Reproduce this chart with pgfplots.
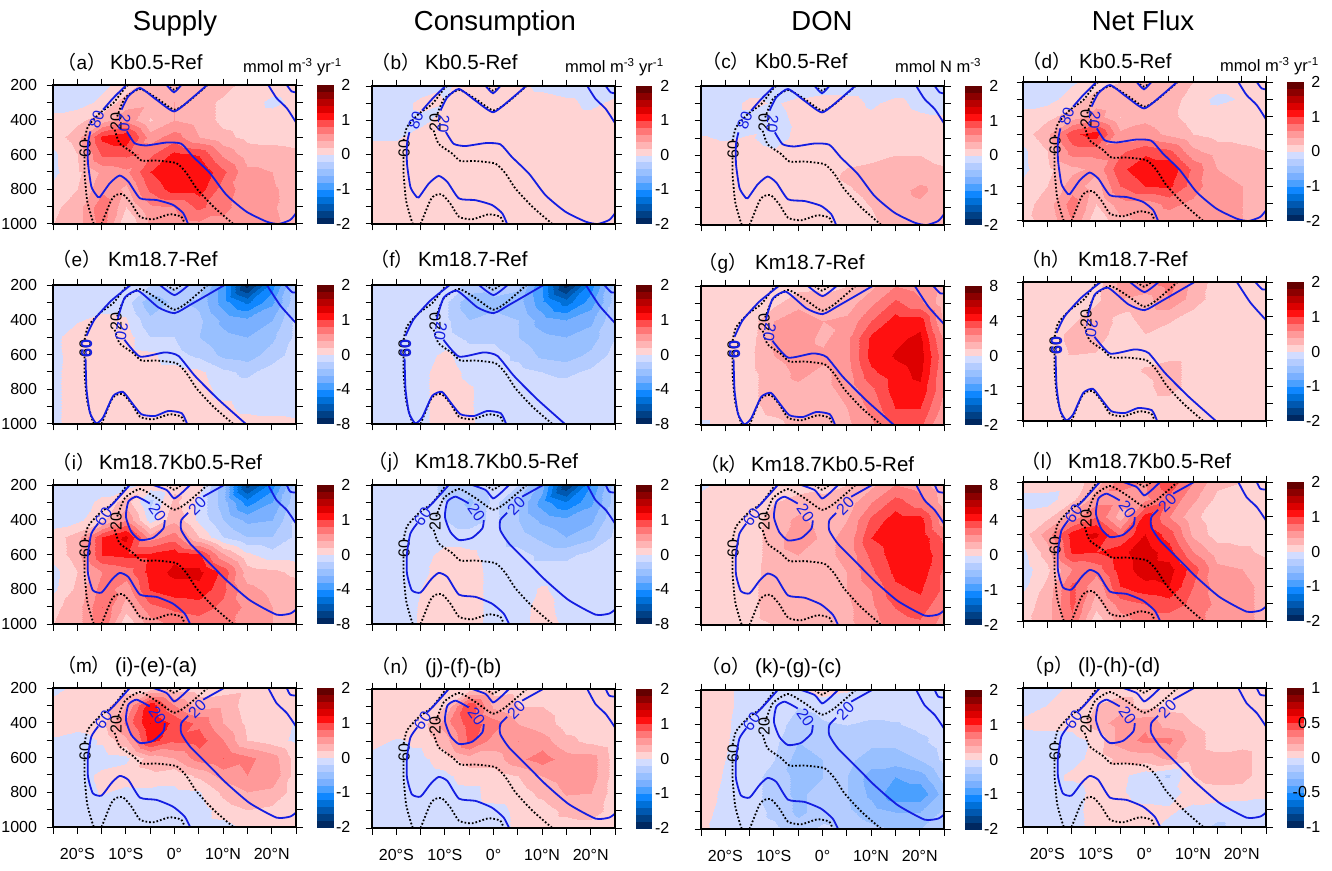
\documentclass[border=0pt]{standalone}
\usepackage{fontspec}
\setmainfont{Liberation Sans}
\newfontfamily\cjk{Noto Sans CJK SC}
\usepackage{pgfplots}
\usepackage{pgfplotstable}
\pgfplotsset{compat=1.18}
\definecolor{cblue}{RGB}{20,30,225}
\pgfplotsset{
 colormap={bwr}{rgb255=(0,40,96) rgb255=(0,64,133) rgb255=(0,88,176) rgb255=(0,112,216) rgb255=(15,135,255) rgb255=(74,160,255) rgb255=(122,176,255) rgb255=(152,192,255) rgb255=(180,204,255) rgb255=(210,220,255)
 rgb255=(255,211,211) rgb255=(255,180,180) rgb255=(255,153,153) rgb255=(255,119,119) rgb255=(255,77,77) rgb255=(255,16,16) rgb255=(221,0,0) rgb255=(184,0,0) rgb255=(140,0,0) rgb255=(100,0,0)},
 blu/.style={color=cblue,line width=1.8pt,smooth,tension=0.35},
 dott/.style={black,line width=1.8pt,dash pattern=on 1.7pt off 2pt,smooth,tension=0.35},
 ylab/.style={yticklabels={200,,400,,600,,800,,1000}},
 noylab/.style={yticklabels={}},
 xlab/.style={xticklabels={,20°S,,10°S,,0°,,10°N,,20°N,}},
 noxlab/.style={xticklabels={}},
}
\newcommand\lf{\fontsize{16}{16}\selectfont}
\newcommand\contD{%
 \addplot[dott] coordinates {(-9.5,200)(-10.2,217)(-12.6,304)(-15.4,362)(-17.8,438)(-18.5,515)};
 \addplot[dott] coordinates {(-18.5,612)(-18.5,708)(-18,862)(-17.1,958)(-16.6,1000)};
 \addplot[dott] coordinates {(-15,1000)(-13,862)(-12,833)(-10.6,829)(-8.9,881)(-7.1,958)(-4.4,973)(-1,944)(1.4,958)(2.1,1000)};
 \addplot[dott] coordinates {(-12.3,458)(-11.3,535)(-8.5,592)(-6.8,635)(-3.7,635)(.4,650)(2.5,708)(4.5,794)(8,900)(12.1,1000)};
 \addplot[dott] coordinates {(-11.8,381)(-10.2,275)(-7.1,223)(-3.7,275)(-.1,342)(2.5,304)(6.8,200)};
 \addplot[dott] coordinates {(-1.6,200)(-.1,227)(1.4,200)};
 \node[rotate=90] at (axis cs:-18.4,565) {\lf 60};
 \node[rotate=90] at (axis cs:-12,410) {\lf 20};
}
\newcommand\contA{%
 \addplot[blu] coordinates {(-9.9,200)(-12.6,275)(-14.7,342)};
 \addplot[blu] coordinates {(-17.3,467)(-17.8,535)(-17.8,650)(-17.1,785)(-16.1,833)(-15.4,846)(-13.3,765)(-11.3,721)(-9.5,756)(-7.1,852)(-3.7,862)(-.3,890)(1.8,938)(2.8,1000)};
 \addplot[blu] coordinates {(-9.8,467)(-8.2,535)(-5.8,548)(-1.6,531)(1.4,538)(3.8,612)(7.3,708)(10.7,833)(14.8,929)(19,987)(21.4,1000)(23.8,977)(25,938)};
 \addplot[blu] coordinates {(-10.9,342)(-9.5,265)(-7.1,217)(-3.7,285)(-.1,352)(3.2,285)(6.7,200)};
 \addplot[blu] coordinates {(-1.6,200)(-.1,242)(1.4,200)};
 \addplot[blu] coordinates {(19.3,200)(21,275)(23.1,333)(25,415)};
 \addplot[blu] coordinates {(23.1,200)(24.1,237)(25,242)};
 \node[rotate=70,text=cblue] at (axis cs:-16,400) {\lf 80};
 \node[rotate=-95,text=cblue] at (axis cs:-10.3,420) {\lf 20};
}
\newcommand\contB{%
 \addplot[blu] coordinates {(-9,200)(-13,290)(-16.4,396)(-18.1,492)};
 \addplot[blu] coordinates {(-18.3,623)(-18.1,800)(-17.4,935)(-16.1,996)(-14.7,963)(-12.6,838)(-10.6,815)(-8.8,877)(-6.8,944)(-4,954)(-1.3,925)(1.5,938)(2.6,1000)};
 \addplot[blu] coordinates {(-10.3,515)(-7.1,612)(-2,588)(.8,608)(4.2,723)(9,858)(14.7,1000)};
 \addplot[blu] coordinates {(-11.6,396)(-11.5,377)(-10.2,271)(-7.5,233)(-3.3,329)(0,362)(3.5,310)(10.3,200)};
 \addplot[blu] coordinates {(-3,200)(0,258)(2.9,200)};
 \addplot[blu] coordinates {(19,200)(21.8,319)(25,419)};
 \addplot[blu] coordinates {(22.8,200)(24.2,242)(25,242)};
 \node[rotate=90,text=cblue] at (axis cs:-18.1,565) {\lf\bfseries 60};
 \node[rotate=-100,text=cblue] at (axis cs:-10.9,465) {\lf 20};
}
\newcommand\contC{%
 \addplot[blu] coordinates {(-9.2,200)(-12.6,306)(-13.7,335)};
 \addplot[blu] coordinates {(-15.7,421)(-17.1,479)(-17.8,594)(-17.8,710)(-16.8,806)(-15,819)(-13,748)(-11.3,706)(-9.5,729)(-7.1,831)(-3.7,844)(-.3,883)(2.1,940)(3.2,1000)};
 \addplot[blu] coordinates {(-5.1,306)(-7.8,267)(-9.5,296)(-10,383)(-8.9,469)(-7.1,517)(-4.4,504)(-2.3,450)(-2,402)};
 \addplot[blu] coordinates {(2.8,360)(1.4,402)(1.4,460)(3.2,537)(7.3,652)(10.7,748)(15.5,863)(21,946)(23.8,940)(25,917)};
 \addplot[blu] coordinates {(5.9,267)(10.2,200)};
 \addplot[blu] coordinates {(-4.4,200)(-1.6,229)(-.1,277)(1.4,248)(3.2,200)};
 \addplot[blu] coordinates {(19.3,200)(21,287)(23.1,344)(25,421)};
 \addplot[blu] coordinates {(23.1,200)(23.8,238)(25,244)};
 \node[rotate=55,text=cblue] at (axis cs:-14.6,382) {\lf 60};
 \node[rotate=-55,text=cblue] at (axis cs:-3.5,360) {\lf 20};
 \node[rotate=45,text=cblue] at (axis cs:4.7,320) {\lf 20};
}
\pgfplotstableread[row sep=crcr]{v\\
-.1\\-.1\\-.05\\.1\\.3\\.3\\.35\\.3\\.1\\.1\\.1\\
-.1\\-.1\\.05\\.3\\.35\\.4\\.3\\.15\\.1\\-.05\\.05\\
.08\\.15\\.3\\.55\\.18\\.4\\.3\\.15\\.12\\.1\\.1\\
.1\\.3\\1.05\\1.15\\.5\\.7\\.4\\.25\\.15\\.12\\.1\\
-.05\\.2\\.85\\.85\\.75\\1.05\\.98\\.55\\.3\\.3\\.25\\
-.05\\.15\\.45\\.55\\1\\1.2\\1.2\\.85\\.45\\.4\\.3\\
.05\\.2\\.55\\.35\\.85\\1.1\\1.1\\.7\\.5\\.42\\.35\\
.15\\.3\\.75\\.2\\.55\\.6\\.85\\.65\\.5\\.42\\.3\\
.2\\.3\\.7\\0\\.42\\.5\\.55\\.55\\.5\\.45\\.3\\
}\dA
\pgfplotstableread[row sep=crcr]{v\\
-.1\\-.1\\-.1\\-.02\\.05\\.1\\.05\\-.05\\-.1\\-.1\\-.1\\
-.1\\-.1\\.05\\0\\.1\\.1\\.1\\.1\\.05\\-.05\\.05\\
-.1\\-.1\\-.05\\.08\\.1\\.1\\.1\\.1\\.1\\.1\\.1\\
-.02\\-.02\\.1\\.1\\.1\\.1\\.1\\.1\\.1\\.1\\.1\\
.1\\.1\\.1\\.1\\.1\\.1\\.1\\.1\\.1\\.1\\.1\\
.1\\.1\\.1\\.1\\.1\\.1\\.1\\.1\\.1\\.1\\.1\\
.1\\.1\\.1\\.1\\.1\\.1\\.1\\.1\\.1\\.1\\.1\\
.1\\.1\\.1\\.1\\.1\\.1\\.1\\.1\\.1\\.1\\.1\\
.1\\.1\\.1\\.1\\.1\\.1\\.1\\.1\\.1\\.1\\.1\\
}\dB
\pgfplotstableread[row sep=crcr]{v\\
-.1\\-.1\\-.1\\-.1\\-.1\\-.1\\-.1\\-.1\\-.1\\-.1\\-.1\\
-.1\\-.1\\.05\\-.02\\.05\\.1\\.08\\-.03\\.05\\-.05\\-.08\\
-.1\\-.1\\-.08\\-.05\\.03\\.1\\.1\\.05\\.1\\.05\\.05\\
.02\\-.02\\.02\\-.08\\.05\\.1\\.1\\.1\\.1\\.1\\.1\\
.1\\.1\\.1\\.05\\.1\\.1\\.1\\.14\\.2\\.2\\.12\\
.1\\.1\\.1\\.1\\.1\\.1\\.24\\.28\\.3\\.3\\.25\\
.1\\.1\\.1\\.1\\.1\\.12\\.18\\.25\\.33\\.45\\.3\\
.1\\.1\\.1\\.1\\.1\\.1\\.12\\.2\\.3\\.35\\.3\\
.1\\.1\\.1\\.1\\.1\\.1\\.1\\.16\\.3\\.33\\.3\\
}\dC
\pgfplotstableread[row sep=crcr]{v\\
-.1\\-.1\\-.03\\.1\\.2\\.25\\.4\\.2\\.1\\.1\\.1\\
-.1\\-.08\\.1\\.3\\.25\\.35\\.3\\.1\\-.05\\.02\\.1\\
.08\\.15\\.3\\.5\\.2\\.35\\.25\\.12\\.1\\.1\\.1\\
.1\\.35\\.95\\1.1\\.45\\.5\\.35\\.2\\.13\\.12\\.1\\
-.05\\.2\\.7\\.7\\.75\\.95\\.85\\.45\\.3\\.25\\.2\\
-.05\\.15\\.35\\.45\\.95\\1.15\\1.15\\.75\\.4\\.35\\.25\\
.05\\.2\\.5\\.3\\.8\\1\\1.05\\.7\\.45\\.4\\.3\\
.12\\.3\\.7\\.2\\.5\\.5\\.65\\.55\\.45\\.4\\.25\\
.15\\.25\\.6\\.03\\.35\\.45\\.5\\.5\\.45\\.4\\.25\\
}\dD
\pgfplotstableread[row sep=crcr]{v\\
-.1\\-.1\\-.1\\-.1\\-.2\\-.15\\-.25\\-.9\\-1.9\\-1.1\\-.25\\
-.1\\-.1\\-.1\\-.1\\-.55\\-.35\\-.45\\-.9\\-1.25\\-.85\\-.25\\
-.1\\-.02\\.06\\.02\\-.35\\-.25\\-.35\\-.65\\-.75\\-.6\\-.15\\
-.05\\.1\\.1\\.1\\-.2\\-.2\\-.4\\-.55\\-.6\\-.45\\-.15\\
-.05\\.08\\.1\\.1\\.05\\-.12\\-.25\\-.45\\-.5\\-.3\\-.1\\
-.05\\.1\\.1\\.1\\.1\\.1\\.05\\-.15\\-.25\\-.1\\-.1\\
-.05\\.1\\.1\\.1\\.1\\.1\\.1\\-.08\\-.1\\-.1\\-.1\\
-.05\\.1\\.1\\.1\\.1\\.1\\.1\\.05\\-.06\\-.1\\-.1\\
-.05\\.1\\.1\\.1\\.1\\.1\\.1\\.1\\.1\\.1\\.05\\
}\dE
\pgfplotstableread[row sep=crcr]{v\\
-.1\\-.1\\-.1\\-.1\\-.25\\-.3\\-.35\\-1\\-1.9\\-1.1\\-.3\\
-.1\\-.1\\-.1\\-.15\\-.55\\-.45\\-.5\\-.95\\-1.3\\-.9\\-.3\\
-.1\\-.1\\-.1\\-.15\\-.4\\-.35\\-.4\\-.7\\-.8\\-.65\\-.2\\
-.1\\-.1\\-.1\\-.12\\-.25\\-.25\\-.4\\-.55\\-.6\\-.5\\-.2\\
-.1\\-.1\\-.1\\.05\\-.12\\-.12\\-.25\\-.45\\-.5\\-.35\\-.12\\
-.1\\-.1\\-.05\\.1\\-.05\\-.1\\-.12\\-.2\\-.25\\-.15\\-.1\\
-.1\\-.1\\-.05\\.1\\.02\\-.1\\-.1\\-.1\\-.1\\-.1\\-.1\\
-.1\\-.1\\-.05\\.1\\.02\\-.1\\-.1\\-.1\\-.1\\-.1\\-.1\\
-.1\\-.1\\-.05\\.1\\.03\\-.1\\-.1\\-.1\\-.1\\-.1\\-.1\\
}\dF
\pgfplotstableread[row sep=crcr]{v\\
.08\\.1\\.1\\.1\\.12\\.15\\.2\\.35\\.6\\.5\\.3\\
.03\\.1\\.1\\.15\\.35\\.25\\.3\\.55\\.85\\.65\\.25\\
.03\\.1\\.1\\.4\\.5\\.4\\.45\\.8\\1.1\\1.12\\.35\\
.05\\.1\\.12\\.45\\.5\\.35\\.55\\1.05\\1.15\\1.25\\.55\\
.1\\.1\\.15\\.4\\.5\\.45\\.55\\1.08\\1.22\\1.3\\.65\\
.1\\.1\\.15\\.3\\.45\\.35\\.5\\.95\\1.12\\1.25\\.6\\
.1\\.1\\.15\\.3\\.35\\.35\\.45\\.75\\1.1\\1.15\\.6\\
.1\\.1\\.15\\.25\\.3\\.3\\.4\\.65\\1\\1\\.5\\
-.05\\.08\\.12\\.15\\.25\\.3\\.35\\.55\\.85\\.85\\.35\\
}\dG
\pgfplotstableread[row sep=crcr]{v\\
.1\\.1\\.1\\.1\\.45\\.6\\.7\\.35\\.1\\.1\\.1\\
.1\\.1\\.1\\.15\\.4\\.3\\.6\\.3\\.1\\.1\\.1\\
.1\\.1\\.15\\.3\\.15\\.25\\.25\\.12\\.1\\.1\\.1\\
.1\\.1\\.25\\.3\\.1\\.2\\.1\\.1\\.1\\.1\\.1\\
.1\\.1\\.22\\.2\\.1\\.1\\.1\\.1\\.1\\.1\\.1\\
.1\\.1\\.1\\.1\\.1\\.22\\.3\\.1\\.1\\.1\\.1\\
.1\\.1\\.1\\.1\\.1\\.15\\.3\\.1\\.1\\.1\\.1\\
.1\\.1\\.1\\.1\\.1\\.1\\.1\\.1\\.1\\.1\\.1\\
.1\\.1\\.1\\.1\\.1\\.1\\.1\\.1\\.1\\.1\\.1\\
}\dH
\pgfplotstableread[row sep=crcr]{v\\
-.1\\-.1\\-.1\\-.1\\.1\\.15\\.1\\-.5\\-1.7\\-1.1\\-.3\\
-.1\\-.1\\.05\\.3\\-.25\\.25\\-.05\\-.5\\-1.1\\-.8\\-.25\\
-.1\\-.05\\.15\\.6\\-.1\\.35\\-.05\\-.4\\-.65\\-.6\\-.15\\
.1\\.3\\1\\1.25\\.5\\.7\\.2\\-.2\\-.4\\-.4\\-.15\\
.08\\.3\\1\\1.05\\1.05\\1.15\\1.05\\.45\\.05\\-.1\\-.1\\
-.08\\.2\\.6\\.7\\1.08\\1.25\\1.25\\.95\\.3\\.25\\.15\\
-.05\\.25\\.7\\.5\\1.02\\1.12\\1.15\\.85\\.45\\.35\\.3\\
.15\\.3\\.8\\.3\\.75\\.85\\.9\\.75\\.55\\.4\\.3\\
.2\\.3\\.75\\.02\\.5\\.65\\.7\\.65\\.55\\.4\\.3\\
}\dI
\pgfplotstableread[row sep=crcr]{v\\
-.1\\-.1\\-.1\\-.25\\-.25\\-.1\\-.2\\-.7\\-1.8\\-1\\-.3\\
-.1\\-.1\\-.1\\-.2\\-.45\\-.15\\-.4\\-.9\\-1.2\\-.85\\-.3\\
-.1\\-.1\\-.1\\-.2\\-.3\\-.15\\-.4\\-.65\\-.75\\-.65\\-.2\\
-.1\\-.1\\-.1\\-.1\\-.1\\-.12\\-.3\\-.45\\-.6\\-.45\\-.15\\
-.1\\-.1\\-.1\\.1\\.05\\-.1\\-.12\\-.25\\-.25\\-.12\\-.1\\
-.1\\-.1\\-.05\\.1\\.1\\-.08\\-.1\\-.1\\-.1\\-.1\\-.1\\
-.1\\-.1\\0\\.1\\.1\\-.08\\-.1\\.03\\-.1\\-.1\\-.1\\
-.1\\-.1\\.02\\.1\\.1\\-.08\\-.1\\.1\\-.1\\-.1\\-.1\\
-.1\\-.1\\.02\\.1\\.1\\-.08\\-.1\\.12\\-.05\\-.1\\-.1\\
}\dJ
\pgfplotstableread[row sep=crcr]{v\\
-.05\\.08\\.08\\.08\\.1\\.15\\.2\\.35\\.6\\.5\\.25\\
.1\\.1\\.1\\.2\\.3\\.25\\.3\\.6\\.9\\.7\\.3\\
.1\\.1\\.1\\.3\\.45\\.3\\.4\\.85\\1.12\\1.1\\.45\\
.1\\.1\\.1\\.3\\.55\\.35\\.45\\1\\1.15\\1.15\\.75\\
.1\\.1\\.1\\.3\\.4\\.35\\.45\\.85\\1.12\\1.16\\.85\\
.1\\.1\\.12\\.3\\.35\\.3\\.4\\.75\\1.05\\1.12\\.75\\
.1\\.1\\.15\\.3\\.3\\.3\\.4\\.6\\.95\\1.03\\.75\\
.1\\.1\\.15\\.28\\.3\\.3\\.35\\.55\\.8\\.9\\.6\\
.1\\.1\\.15\\.2\\.25\\.3\\.35\\.5\\.7\\.75\\.5\\
}\dK
\pgfplotstableread[row sep=crcr]{v\\
.15\\.15\\.1\\.3\\.7\\.6\\.95\\.6\\.25\\.2\\.2\\
-.1\\-.1\\.15\\.5\\.5\\.55\\.75\\.45\\.15\\.1\\.1\\
.1\\.15\\.5\\.8\\.3\\1.1\\.6\\.25\\.08\\.1\\.1\\
.1\\.5\\1.1\\1.25\\.75\\1.2\\.9\\.35\\.1\\.1\\.1\\
-.05\\.3\\1.05\\1\\1.15\\1.3\\1.1\\.6\\.3\\.25\\.15\\
-.1\\.15\\.6\\.7\\1.1\\1.3\\1.28\\.9\\.45\\.4\\.3\\
-.05\\.25\\.85\\.45\\1\\1.15\\1.2\\.8\\.5\\.45\\.35\\
.1\\.3\\.85\\.3\\.7\\.8\\.9\\.75\\.55\\.45\\.35\\
.15\\.3\\.75\\.05\\.5\\.7\\.7\\.65\\.55\\.45\\.35\\
}\dL
\pgfplotstableread[row sep=crcr]{v\\
-.1\\.08\\.1\\.1\\.1\\.1\\.1\\.1\\.15\\.1\\.1\\
.1\\.1\\.1\\.4\\1.15\\.6\\.3\\.35\\.1\\.1\\.05\\
.1\\.1\\.15\\.65\\1.2\\.95\\.75\\.4\\.15\\.1\\-.02\\
-.03\\-.1\\.03\\.35\\1.1\\.85\\.9\\.6\\.2\\.1\\-.05\\
-.1\\-.1\\-.1\\-.05\\.3\\.4\\.7\\.8\\.65\\.5\\.1\\
0\\-.1\\.05\\.1\\.15\\.08\\.25\\.5\\.6\\.55\\.1\\
-.1\\-.1\\.02\\-.05\\-.05\\-.05\\-.02\\.25\\.4\\.35\\.1\\
-.1\\-.1\\-.1\\-.1\\-.1\\-.1\\-.1\\.1\\.2\\.15\\.1\\
-.1\\-.1\\-.1\\-.1\\-.1\\-.1\\-.1\\-.08\\.05\\.1\\.1\\
}\dM
\pgfplotstableread[row sep=crcr]{v\\
.1\\.1\\.1\\.1\\.1\\.1\\.15\\.15\\.1\\.1\\.05\\
.1\\.05\\.1\\.2\\1\\.35\\.2\\.2\\.1\\.1\\.1\\
.1\\.1\\.1\\.5\\.9\\.7\\.4\\.3\\.12\\.1\\.1\\
.05\\-.02\\.03\\.3\\.85\\.5\\.6\\.5\\.25\\.15\\.05\\
-.05\\-.05\\-.05\\.1\\.3\\.3\\.55\\.7\\.5\\.5\\.1\\
-.05\\-.1\\-.1\\-.05\\.1\\.1\\.2\\.4\\.5\\.5\\.1\\
-.1\\-.1\\-.1\\-.1\\-.08\\.1\\.1\\.25\\.42\\.4\\.1\\
-.1\\-.1\\-.1\\-.1\\-.1\\-.08\\.05\\.1\\.25\\.3\\.1\\
-.1\\-.1\\-.1\\-.1\\-.1\\-.1\\.05\\.1\\.1\\.1\\.1\\
}\dN
\pgfplotstableread[row sep=crcr]{v\\
.1\\.05\\-.1\\-.1\\-.05\\.1\\.02\\-.1\\-.1\\-.1\\-.1\\
.1\\.05\\-.1\\-.1\\-.2\\-.15\\-.12\\-.1\\-.1\\-.1\\-.1\\
.1\\.03\\-.1\\-.1\\-.3\\-.22\\-.2\\-.25\\-.22\\-.15\\-.1\\
.1\\.02\\-.1\\-.15\\-.4\\-.3\\-.35\\-.35\\-.35\\-.25\\-.1\\
.1\\0\\-.1\\-.2\\-.5\\-.4\\-.35\\-.5\\-.5\\-.4\\-.15\\
.1\\-.02\\-.1\\-.3\\-.45\\-.4\\-.4\\-.7\\-.8\\-.7\\-.3\\
.1\\-.05\\-.1\\-.3\\-.45\\-.3\\-.4\\-.65\\-.95\\-.95\\-.5\\
.1\\-.1\\-.1\\-.25\\-.45\\-.3\\-.35\\-.5\\-.6\\-.6\\-.35\\
.05\\-.1\\-.1\\-.15\\-.3\\-.15\\-.25\\-.35\\-.4\\-.4\\-.3\\
}\dO
\pgfplotstableread[row sep=crcr]{v\\
-.1\\-.1\\.05\\.1\\.1\\.1\\.1\\.1\\.1\\.1\\.1\\
-.1\\0\\.1\\.2\\.3\\.12\\.15\\.12\\.1\\.1\\.1\\
.05\\.08\\.08\\.3\\.5\\.55\\.3\\.2\\.1\\.1\\.1\\
-.1\\-.1\\-.08\\.05\\.5\\.65\\.65\\.3\\.1\\.1\\.05\\
-.1\\-.1\\-.1\\.1\\.25\\.3\\.45\\.3\\.25\\.3\\.05\\
-.1\\-.1\\.05\\.12\\.05\\-.1\\-.22\\.2\\.3\\.3\\.05\\
-.1\\-.1\\-.1\\.08\\.03\\-.1\\-.1\\.1\\.12\\.1\\.05\\
-.1\\-.1\\-.08\\.1\\.1\\.05\\.03\\-.05\\-.1\\-.1\\-.1\\
-.1\\-.1\\-.1\\.1\\.1\\.05\\-.05\\-.1\\-.25\\-.1\\-.1\\
}\dP
% #1 left #2 top #3 bottom #4 colorbar labels #5 contours #6 table #7 y style #8 x style
\newcommand\panel[8]{%
 \pgfmathsetmacro\hh{#3-#2}%
 \begin{axis}[at={(#1pt,870pt-#3pt)},anchor=south west,scale only axis,width=243pt,height=\hh pt,
  xmin=-25,xmax=25,ymin=200,ymax=1000,y dir=reverse,
  xtick={-25,-20,-15,-10,-5,0,5,10,15,20,25},ytick={200,300,400,500,600,700,800,900,1000},
  #7,#8,tick align=outside,major tick length=6.5pt,
  tick style={black,line width=1pt},axis line style={line width=1.2pt},
  xtick pos=both,ytick pos=both,xticklabel pos=bottom,yticklabel pos=left,
  ticklabel style={font=\fontsize{16}{16}\selectfont},
  xticklabel style={yshift=-11pt},yticklabel style={xshift=-6pt},
  axis on top,
  colormap name=bwr,colormap access=piecewise constant,point meta min=-2,point meta max=2,
  colorbar,colorbar style={at={(parent axis.south east)},anchor=south west,xshift=12pt,
   scale only axis,width=16.5pt,height=\hh pt,
   ytick={-2,-1,0,1,2},yticklabels={#4},major tick length=0pt,tick style={draw=none},axis line style={draw=none},
   yticklabel pos=right,
   yticklabel style={font=\fontsize{16}{16}\selectfont,text width=28pt,align=right,anchor=west,inner sep=0pt,xshift=-11pt}},
 ]
 \addplot[surf,shader=interp,mesh/cols=11,point meta=explicit] table[x index=0,y index=0,x expr={-25+5*mod(\coordindex,11)},y expr={200+100*floor(\coordindex/11)},meta=v] {#6};
 \contD
 #5
 \end{axis}%
}
\newcommand\lab[5]{% paren centre, letter, text left, text, centre y
 \node[anchor=base,inner sep=0pt] at (#1pt,870pt-#5pt-7pt) {\fontsize{19}{19}\selectfont{\cjk （}#2{\cjk ）}};
 \node[anchor=base west,inner sep=0pt] at (#3pt,870pt-#5pt-7pt) {\fontsize{20.5}{20}\selectfont #4};
}
\newcommand\unit[3]{\node[anchor=base west,inner sep=0pt] at (#1pt,870pt-#2pt) {\fontsize{16.5}{16}\selectfont #3};}
\newcommand\coltitle[2]{\node[anchor=base,inner sep=0pt] at (#1pt,839pt) {\fontsize{27.5}{28}\selectfont #2};}
\begin{document}
\begin{tikzpicture}[x=1pt,y=1pt]
\path[use as bounding box] (0,0) rectangle (1332,870);
\panel{53}{85}{224}{-2,-1,0,1,2}{\contA}{\dA}{ylab}{noxlab}
\panel{372}{86}{224}{-2,-1,0,1,2}{\contA}{\dB}{noylab}{noxlab}
\panel{701}{86}{225}{-2,-1,0,1,2}{\contA}{\dC}{noylab}{noxlab}
\panel{1023}{82}{221}{-2,-1,0,1,2}{\contA}{\dD}{noylab}{noxlab}
\panel{53}{285}{424}{-8,-4,0,1,2}{\contB}{\dE}{ylab}{noxlab}
\panel{372}{285}{424}{-8,-4,0,1,2}{\contB}{\dF}{noylab}{noxlab}
\panel{701}{286}{425}{-2,-1,0,4,8}{\contB}{\dG}{noylab}{noxlab}
\panel{1023}{282}{421}{-2,-1,0,1,2}{\contB}{\dH}{noylab}{noxlab}
\panel{53}{485}{624}{-8,-4,0,1,2}{\contC}{\dI}{ylab}{noxlab}
\panel{372}{485}{624}{-8,-4,0,1,2}{\contC}{\dJ}{noylab}{noxlab}
\panel{701}{485}{625}{-2,-1,0,4,8}{\contC}{\dK}{noylab}{noxlab}
\panel{1023}{482}{621}{-2,-1,0,1,2}{\contC}{\dL}{noylab}{noxlab}
\panel{53}{688}{827}{-2,-1,0,1,2}{\contC}{\dM}{ylab}{xlab}
\panel{372}{689}{828}{-2,-1,0,1,2}{\contC}{\dN}{noylab}{xlab}
\panel{701}{690}{829}{-2,-1,0,1,2}{\contC}{\dO}{noylab}{xlab}
\panel{1023}{688}{827}{-1,-0.5,0,0.5,1}{\contC}{\dP}{noylab}{xlab}
\coltitle{175}{Supply}\coltitle{495}{Consumption}\coltitle{822}{DON}\coltitle{1143}{Net Flux}
\lab{82}{a}{110}{Kb0.5-Ref}{63}\lab{396}{b}{425}{Kb0.5-Ref}{63}\lab{726}{c}{755}{Kb0.5-Ref}{62}\lab{1047}{d}{1079}{Kb0.5-Ref}{62}
\lab{77}{e}{108}{Km18.7-Ref}{260}\lab{392}{f}{418}{Km18.7-Ref}{260}\lab{723}{g}{755}{Km18.7-Ref}{263}\lab{1046}{h}{1078}{Km18.7-Ref}{260}
\lab{74}{i}{99}{Km18.7Kb0.5-Ref}{463}\lab{390}{j}{415}{Km18.7Kb0.5-Ref}{462}\lab{724}{k}{751}{Km18.7Kb0.5-Ref}{465}\lab{1043}{l}{1068}{Km18.7Kb0.5-Ref}{462}
\lab{84}{m}{115}{(i)-(e)-(a)}{666}\lab{396}{n}{425}{(j)-(f)-(b)}{667}\lab{726}{o}{755}{(k)-(g)-(c)}{667}\lab{1049}{p}{1078}{(l)-(h)-(d)}{666}
\unit{243}{73}{mmol m\textsuperscript{-3} yr\textsuperscript{-1}}
\unit{565}{73}{mmol m\textsuperscript{-3} yr\textsuperscript{-1}}
\unit{895}{73}{mmol N m\textsuperscript{-3}}
\unit{1220}{72}{mmol m\textsuperscript{-3} yr\textsuperscript{-1}}
\end{tikzpicture}
\end{document}
